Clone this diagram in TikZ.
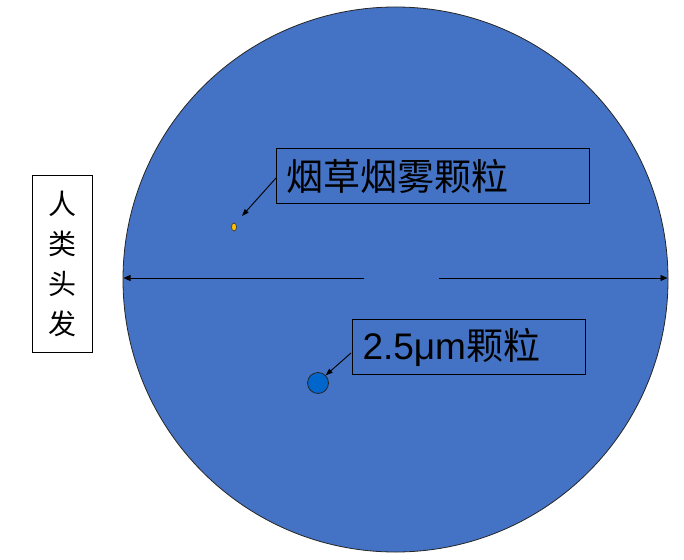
\documentclass[tikz,border=0pt]{standalone}
\usepackage{fontspec}
\setmainfont{Liberation Sans}
\newfontfamily\cjk{Noto Sans CJK SC}
\usetikzlibrary{arrows.meta,shapes.geometric}
\definecolor{bigblue}{HTML}{4472C4}
\definecolor{pm}{HTML}{0066CC}
\definecolor{smoke}{HTML}{FFC000}
\tikzset{
  lbl/.style={draw=black, line width=1pt, anchor=north west, inner xsep=10pt, inner ysep=0pt, align=left},
  callout/.style={line width=0.9pt, -{Triangle[length=7pt,width=5pt]}},
  dim/.style={line width=0.9pt, -{Triangle[length=7pt,width=6pt]}}
}
\begin{document}
\begin{tikzpicture}[x=1pt,y=-1pt]
\useasboundingbox (0,0) rectangle (684,559);
\fill[white] (0,0) rectangle (684,559);
% big circle (hair)
\node[circle, draw=black!85, line width=0.8pt, fill=bigblue, minimum size=545pt, inner sep=0pt] (hair) at (395.5,279.5) {};
% diameter arrows
\coordinate (gapL) at (364,278);
\coordinate (gapR) at (439,278);
\coordinate (edgeL) at (123.5,278);
\coordinate (edgeR) at (667.5,278);
\draw[dim] (gapL) -- (edgeL);
\draw[dim] (gapR) -- (edgeR);
% hair label
\node[draw=black, line width=1pt, minimum width=60pt, minimum height=177pt, inner sep=0pt, align=center, anchor=north west, font=\cjk\fontsize{28}{40}\selectfont] (hairlbl) at (32,175) {人\\类\\头\\发};
% smoke particle
\node[ellipse, draw=black!80, line width=0.6pt, fill=smoke, minimum width=5pt, minimum height=8pt, inner sep=0pt] (smokep) at (234,227) {};
\node[lbl, minimum height=55pt, text width=293pt, font=\cjk\fontsize{37}{40}\selectfont] (smokelbl) at (276,148) {烟草烟雾颗粒};
\coordinate (smokeA) at (276,178);
\coordinate (smokeB) at (242,216);
\draw[callout] (smokeA) -- (smokeB);
% PM2.5 particle
\node[circle, draw=black!85, line width=0.8pt, fill=pm, minimum size=21pt, inner sep=0pt] (pmp) at (318,383) {};
\node[lbl, minimum height=55pt, text width=213pt, font=\fontsize{37}{40}\selectfont] (pmlbl) at (352,319) {2.5μm{\cjk 颗粒}};
\coordinate (pmA) at (351,353);
\draw[callout] (pmA) -- (pmp.north east);
\end{tikzpicture}
\end{document}
